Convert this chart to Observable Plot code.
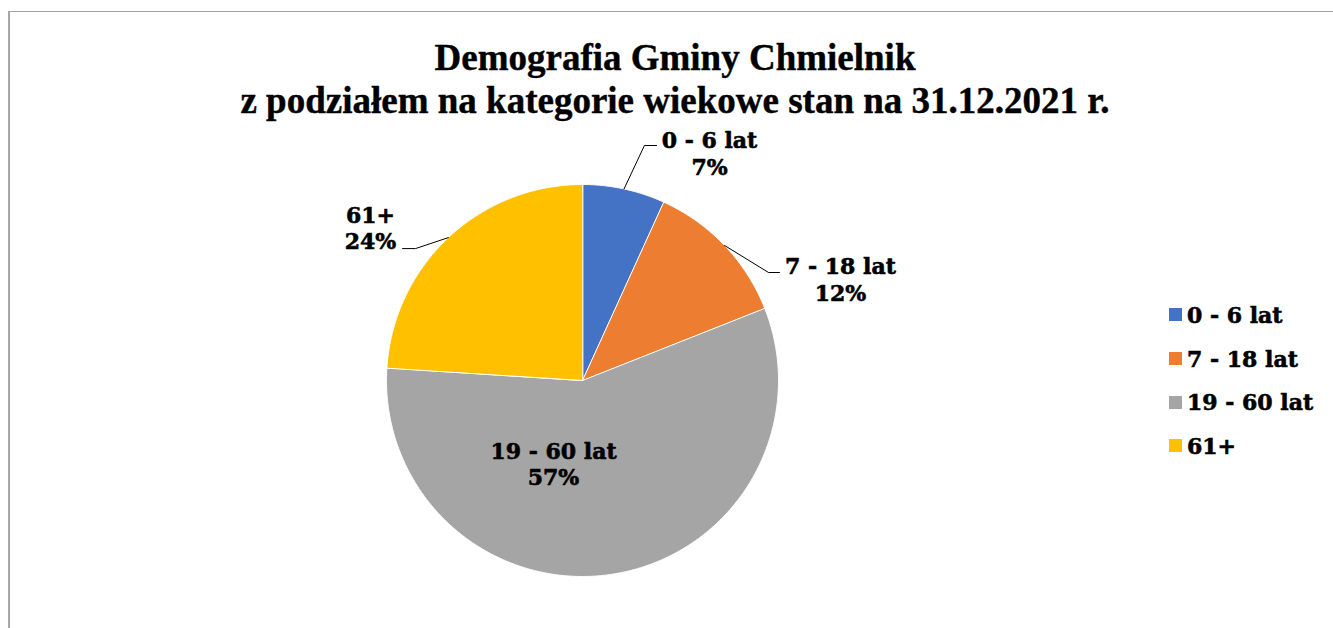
<!DOCTYPE html>
<html>
<head>
<meta charset="utf-8">
<script src="https://cdn.jsdelivr.net/npm/d3@7"></script>
<script src="https://cdn.jsdelivr.net/npm/@observablehq/plot@0.6"></script>
<style>
  html, body { margin: 0; padding: 0; background: #fff; overflow: hidden; }
  #wrap { position: relative; width: 1333px; height: 628px; }
  #frame { position: absolute; left: 8px; top: 11px; right: -4px; bottom: -4px;
           border-top: 1.5px solid #a6a6a6; border-left: 2px solid #a6a6a6; }
  #chart { position: absolute; left: 0; top: 0; }
  #title { position: absolute; left: 17px; width: 1316px; top: 36px; text-align: center;
           font-family: "Liberation Serif", "Times New Roman", serif; font-weight: bold;
           font-size: 37px; line-height: 43px; color: #000; -webkit-text-stroke: 0.4px #000; }
  #legend { position: absolute; left: 1169px; top: 293px;
            font-family: "DejaVu Serif", serif; font-weight: bold; font-size: 22px; color: #000;
            -webkit-text-stroke: 0.6px #000; }
  .row { display: flex; align-items: center; height: 43.7px; }
  .sw { width: 13px; height: 13px; margin-right: 5px; }
</style>
</head>
<body>
<div id="wrap">
  <div id="frame"></div>
  <div id="chart"></div>
  <div id="title"></div>
  <div id="legend"></div>
</div>
<script>
// ---- data ----
const titleLines = ["Demografia Gminy Chmielnik", "z podziałem na kategorie wiekowe stan na 31.12.2021 r."];
const categories = ["0 - 6 lat", "7 - 18 lat", "19 - 60 lat", "61+"];
const shares = [6.8, 12.2, 57.0, 24.0];
const colors = ["#4472C4", "#ED7D31", "#A5A5A5", "#FFC000"];

// ---- label layout (unit-circle coordinates, radius = 1) ----
const labelCenters = [[0.648, 1.161], [1.316, 0.518], [-0.148, -0.423], [-1.082, 0.781]];
const leaderBends = [[[0.316, 1.199], [0.378, 1.199]], [[0.949, 0.551], [1.005, 0.551]], null, [[-0.852, 0.673], [-0.918, 0.673]]];

// ---- build geometry from the values ----
const total = d3.sum(shares);
const slices = [];
const leaders = [];
const labels = [];
let acc = 0;
categories.forEach((cat, i) => {
  const a0 = acc / total * 2 * Math.PI;
  acc += shares[i];
  const a1 = acc / total * 2 * Math.PI;
  const n = Math.max(2, Math.ceil((a1 - a0) / (Math.PI / 360)));
  slices.push({cat, x: 0, y: 0});
  for (let k = 0; k <= n; k++) {
    const a = a0 + (a1 - a0) * k / n;
    slices.push({cat, x: Math.sin(a), y: Math.cos(a)});
  }
  const am = (a0 + a1) / 2;
  if (leaderBends[i]) {
    leaders.push({cat, x: Math.sin(am), y: Math.cos(am)});
    leaderBends[i].forEach(([x, y]) => leaders.push({cat, x, y}));
  }
  labels.push({cat, x: labelCenters[i][0], y: labelCenters[i][1],
               text: cat + "\n" + Math.round(shares[i] / total * 100) + "%"});
});

const chart = Plot.plot({
  width: 1333,
  height: 628,
  margin: 0,
  style: {background: "transparent"},
  x: {domain: [-1, 1], range: [386, 778], axis: null},
  y: {domain: [-1, 1], range: [576, 184], axis: null},
  color: {domain: categories, range: colors},
  marks: [
    Plot.line(slices, {x: "x", y: "y", z: "cat", fill: "cat", stroke: "white", strokeWidth: 1, curve: "linear-closed"}),
    Plot.line(leaders, {x: "x", y: "y", z: "cat", stroke: "black", strokeWidth: 1}),
    Plot.text(labels, {x: "x", y: "y", text: "text", fill: "black", stroke: "black", strokeWidth: 0.6,
                       fontFamily: "DejaVu Serif", fontSize: 22, fontWeight: "bold", lineHeight: 1.2})
  ]
});
document.getElementById("chart").appendChild(chart);

document.getElementById("title").innerHTML = titleLines.map(t => `<div>${t}</div>`).join("");
document.getElementById("legend").innerHTML = categories.map((c, i) =>
  `<div class="row"><div class="sw" style="background:${colors[i]}"></div><span>${c}</span></div>`).join("");
</script>
</body>
</html>
